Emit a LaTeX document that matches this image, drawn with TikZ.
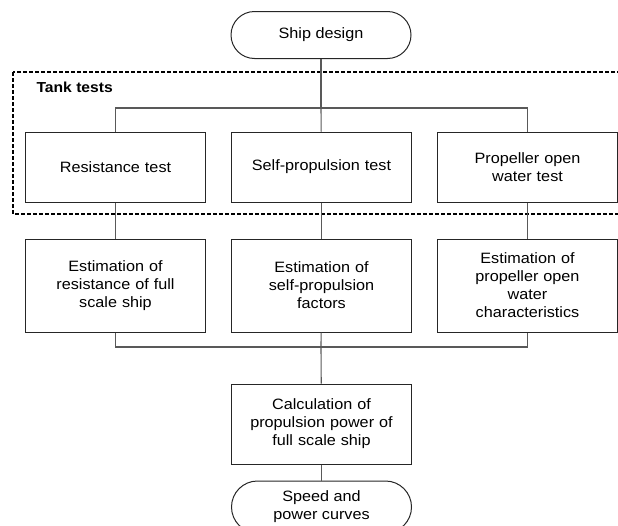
\documentclass[tikz,border=0pt]{standalone}
\usepackage{fontspec}
\setmainfont{Liberation Sans}[FakeStretch=1.08]
\usetikzlibrary{positioning, shapes.misc}

\begin{document}
\begin{tikzpicture}[
  x=1pt, y=-1pt,
  node distance=25pt,
  font=\fontsize{15}{18}\selectfont,
  stepbox/.style={
    rectangle, draw=black!85, line width=1pt,
    minimum width=180pt, text width=160pt, align=center,
    inner sep=0pt
  },
  endbox/.style={
    rounded rectangle, draw=black!85, line width=1pt,
    minimum width=180pt, minimum height=47pt, align=center,
    inner sep=0pt
  },
  link/.style={draw=black!65, line width=1.1pt},
  tankframe/.style={draw=black, line width=1.5pt, dash pattern=on 4pt off 2pt}
]
\clip (0,0) rectangle (618,525);

%% Start and tank tests row
\node[endbox] (design) at (321,35) {Ship design};
\node[stepbox, minimum height=70pt] (selfp) at (321.5,167) {Self-propulsion test};
\node[stepbox, minimum height=70pt, left=25pt of selfp]  (resist) {Resistance test};
\node[stepbox, minimum height=70pt, right=25pt of selfp] (openw)  {Propeller open\\water test};

%% Dashed frame round the tank tests
\draw[tankframe] (13,72) rectangle (640,214);
\node[anchor=west, font=\fontsize{14.5}{17.5}\selectfont\bfseries] (tanklbl) at (33,87) {Tank tests};

%% Estimation row
\node[stepbox, minimum height=93pt, below=36pt of resist] (estres) {Estimation of\\resistance of full\\scale ship};
\node[stepbox, minimum height=93pt, below=36pt of selfp]  (estsp)  {Estimation of\\self-propulsion\\factors};
\node[stepbox, minimum height=93pt, below=36pt of openw]  (estow)  {Estimation of\\propeller open\\water\\characteristics};

%% Final steps
\node[stepbox, minimum height=80pt, below=51pt of estsp] (calc) {Calculation of\\propulsion power of\\full scale ship};
\node[endbox, minimum height=52pt, below=16pt of calc] (curves) {Speed and\\power curves};

%% Branching lines
\coordinate (split) at (321,108);
\coordinate (merge) at (321,347);
\draw[link] (design) -- (split);
\draw[link] (resist.north) |- (split) -| (openw.north);
\draw[link] (split) -- (selfp);
\draw[link] (resist) -- (estres);
\draw[link] (selfp)  -- (estsp);
\draw[link] (openw)  -- (estow);
\draw[link] (estres.south) |- (merge) -| (estow.south);
\draw[link] (estsp) -- (merge) -- (calc);
\draw[link] (calc) -- (curves);

\end{tikzpicture}
\end{document}
